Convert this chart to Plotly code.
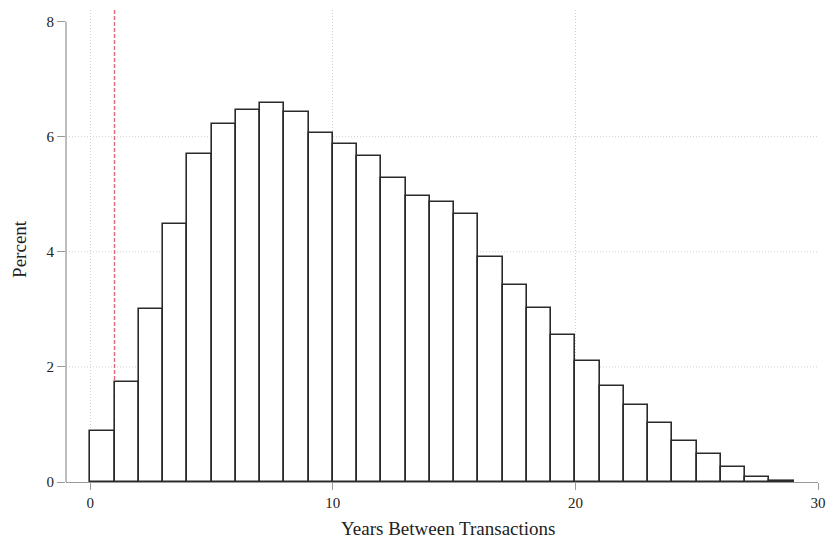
import plotly.graph_objects as go

# Histogram: years between transactions (bin width 1 year, starting at 0)
bin_starts = list(range(0, 29))
percent = [0.89, 1.74, 3.01, 4.49, 5.70, 6.22, 6.47, 6.58, 6.43, 6.07,
           5.88, 5.66, 5.28, 4.97, 4.87, 4.66, 3.91, 3.42, 3.02, 2.55,
           2.10, 1.66, 1.33, 1.03, 0.72, 0.49, 0.26, 0.09, 0.02]
x_ticks = [0, 10, 20, 30]
y_ticks = [0, 2, 4, 6, 8]
y_grid = [2, 4, 6]
ref_line_x = 1

FONT = "Liberation Serif, Times New Roman, serif"
TEXT = "#222222"
GRID = "#d0d0d0"
AXIS = "#9a9a9a"

fig = go.Figure()
fig.add_trace(go.Bar(
    x=[b + 0.5 for b in bin_starts], y=percent, width=1,
    marker=dict(color="white", line=dict(color="#2a2a2a", width=1.6)),
    showlegend=False, hoverinfo="x+y",
))

shapes = []
for g in y_grid:
    shapes.append(dict(type="line", xref="paper", yref="y", x0=0, x1=1, y0=g, y1=g,
                       line=dict(color=GRID, width=1, dash="1px,2px"), layer="below"))
# reference line
shapes.append(dict(type="line", xref="x", yref="paper", x0=ref_line_x, x1=ref_line_x, y0=0, y1=1,
                   line=dict(color="#de6a80", width=1.4, dash="4px,2px"), layer="below"))
# y axis line (spans tick range only)
shapes.append(dict(type="line", xref="paper", yref="y", x0=0, x1=0, y0=0, y1=8,
                   line=dict(color=AXIS, width=1.3), layer="above"))

fig.update_layout(
    width=829, height=542,
    margin=dict(l=66, r=11, t=10, b=60, autoexpand=False),
    paper_bgcolor="white", plot_bgcolor="white",
    font=dict(family=FONT, size=15, color=TEXT),
    shapes=shapes,
    bargap=0,
    xaxis=dict(range=[-1, 30], tickvals=x_ticks, ticks="outside", ticklen=7,
               tickcolor=AXIS, showline=True, linecolor=AXIS, linewidth=1.3,
               showgrid=True, gridcolor=GRID, griddash="1px,2px", gridwidth=1,
               zeroline=False, tickfont=dict(size=15, color=TEXT, family=FONT),
               automargin=False),
    yaxis=dict(range=[0, 8.2], tickvals=y_ticks, ticks="outside", ticklen=8,
               tickcolor=AXIS, showline=False, showgrid=False, zeroline=False,
               tickfont=dict(size=15, color=TEXT, family=FONT), automargin=False),
    annotations=[
        dict(text="Years Between Transactions", xref="paper", yref="paper",
             x=(448 - 66) / 752, y=-(529 - 482.5) / 472.5, xanchor="center", yanchor="middle",
             showarrow=False, font=dict(size=19, family=FONT, color=TEXT)),
        dict(text="Percent", xref="paper", yref="y", x=-(66 - 20) / 752, y=4.05,
             xanchor="center", yanchor="middle", textangle=-90,
             showarrow=False, font=dict(size=19, family=FONT, color=TEXT)),
    ],
)

fig.write_html("out.html", config={"displayModeBar": False},
               post_script="document.body.style.margin='0';document.body.style.overflow='hidden';")
